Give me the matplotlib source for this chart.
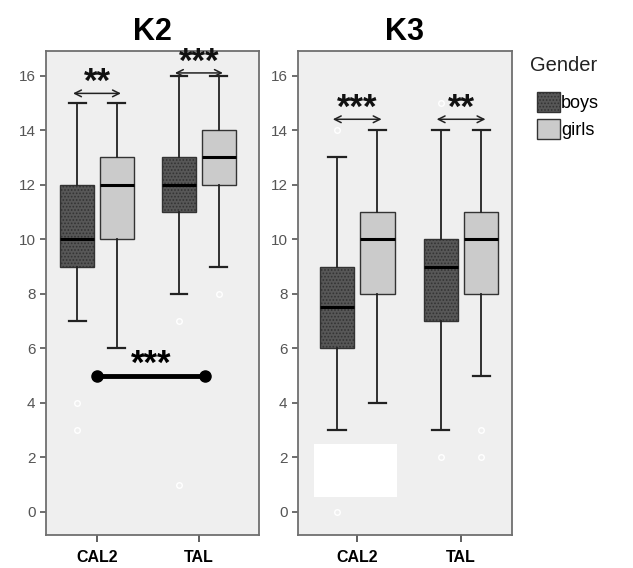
import numpy as np
import matplotlib.pyplot as plt
from matplotlib.patches import Patch, Rectangle

tests = ['CAL2', 'TAL']
genders = ['boys', 'girls']

# (whislo, q1, med, q3, whishi), one row per test, for boys then girls
k2_boys = [[7, 9, 10, 12, 15], [8, 11, 12, 13, 16]]
k2_girls = [[6, 10, 12, 13, 15], [9, 12, 13, 14, 16]]
k3_boys = [[3, 6, 7.5, 9, 13], [3, 7, 9, 10, 14]]
k3_girls = [[4, 8, 10, 11, 14], [5, 8, 10, 11, 14]]

k2_boys_out = [[4, 3], [7, 1]]
k2_girls_out = [[], [8]]
k3_boys_out = [[14, 0], [15, 2]]
k3_girls_out = [[], [3, 2]]

# significance marks: (test index, stars)
k2_sig = [(0, '**'), (1, '***')]
k3_sig = [(0, '***'), (1, '**')]

boys_col = '#575757'
girls_col = '#cbcbcb'
bg_col = '#efefef'


def make_stats(vals, outs):
    st = []
    for v, o in zip(vals, outs):
        st.append(dict(whislo=v[0], q1=v[1], med=v[2], q3=v[3], whishi=v[4],
                       fliers=np.array(o, dtype=float)))
    return st


def draw_panel(ax, boys, girls, b_out, g_out, sig, arrow_y, title):
    pos = np.arange(len(tests))
    off = 0.195
    w = 0.33
    for stats, col, sh, hatch in [(make_stats(boys, b_out), boys_col, -off, '.....'),
                                  (make_stats(girls, g_out), girls_col, off, None)]:
        bp = ax.bxp(stats, positions=pos + sh, widths=w, patch_artist=True,
                    showfliers=True,
                    boxprops=dict(facecolor=col, edgecolor='#333333', linewidth=1.0),
                    medianprops=dict(color='black', linewidth=2.2),
                    whiskerprops=dict(color='#222222', linewidth=1.3),
                    capprops=dict(color='#222222', linewidth=1.6),
                    flierprops=dict(marker='o', markerfacecolor='none',
                                    markeredgecolor='white', markersize=4))
        if hatch:
            for b in bp['boxes']:
                b.set_hatch(hatch)
    for i, stars in sig:
        y = arrow_y[i]
        ax.annotate('', xy=(pos[i] - off - 0.04, y), xytext=(pos[i] + off + 0.04, y),
                    arrowprops=dict(arrowstyle='<->', color='#222222', lw=1.1,
                                    shrinkA=0, shrinkB=0, mutation_scale=12))
        ax.text(pos[i], y - 0.2, stars, ha='center', va='bottom', fontsize=25,
                fontweight='bold', color='#111111')
    ax.set_facecolor(bg_col)
    ax.set_ylim(-0.85, 16.9)
    ax.set_yticks(range(0, 17, 2))
    ax.set_xticks(pos)
    ax.set_xticklabels(tests, fontsize=11.5, fontweight='bold')
    ax.tick_params(axis='y', labelsize=11, colors='#555555', length=4, width=1.2)
    ax.tick_params(axis='x', length=5, width=1.2, color='#444444', labelcolor='black', pad=6)
    for s in ax.spines.values():
        s.set_color('#6f6f6f')
        s.set_linewidth(1.3)
    ax.set_title(title, fontsize=22, fontweight='bold', pad=8)


plt.rcParams['hatch.color'] = '#3a3a3a'
plt.rcParams['hatch.linewidth'] = 0.8
plt.rcParams['font.family'] = ['Arial', 'Liberation Sans', 'DejaVu Sans']

fig = plt.figure(figsize=(6.33, 5.68), dpi=100)
ax1 = fig.add_axes([0.0727, 0.058, 0.3365, 0.852])
ax2 = fig.add_axes([0.4708, 0.058, 0.338, 0.852])

draw_panel(ax1, k2_boys, k2_girls, k2_boys_out, k2_girls_out, k2_sig, [15.35, 16.1], 'K2')
ax1.set_xlim(-0.5, 1.59)
# between-test comparison in K2
ax1.plot([0, 1.06], [5, 5], color='black', lw=3.5, marker='o', markersize=8)
ax1.text(0.53, 4.8, '***', ha='center', va='bottom', fontsize=25, fontweight='bold')

draw_panel(ax2, k3_boys, k3_girls, k3_boys_out, k3_girls_out, k3_sig, [14.4, 14.4], 'K3')
ax2.set_xlim(-0.57, 1.49)
ax2.add_patch(Rectangle((-0.42, 0.55), 0.8, 1.95, facecolor='white', edgecolor='none', zorder=5))

fig.text(0.837, 0.884, 'Gender', fontsize=14.5, va='center', ha='left', color='#222222')
handles = [Patch(facecolor=boys_col, edgecolor='#333333', hatch='.....', label='boys'),
           Patch(facecolor=girls_col, edgecolor='#333333', label='girls')]
leg = fig.legend(handles=handles, loc='upper left',
                 bbox_to_anchor=(0.848, 0.838), frameon=False, fontsize=13,
                 handlelength=1.3, handleheight=1.35,
                 handletextpad=0.05, labelspacing=0.35, borderaxespad=0, borderpad=0)

fig.savefig('out.png', dpi=100)
